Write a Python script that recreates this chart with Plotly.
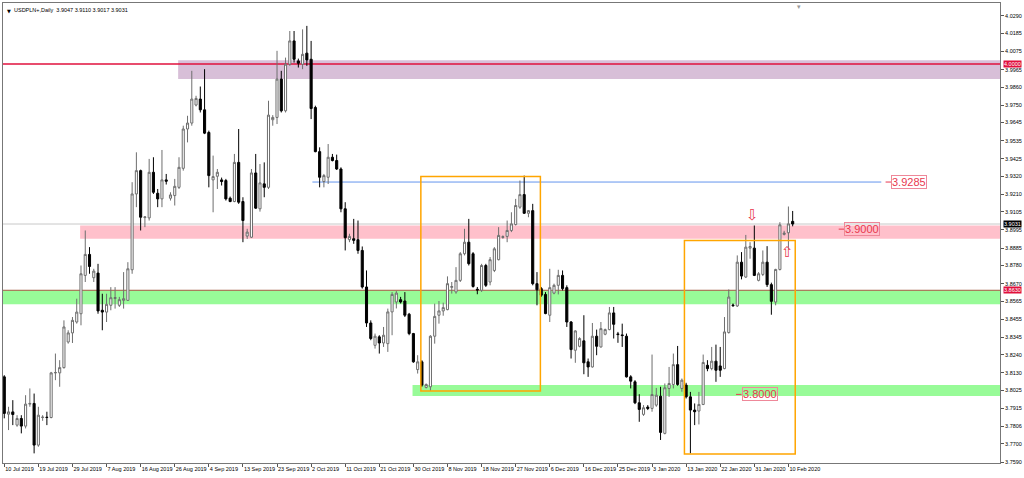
import plotly.graph_objects as go

# ---------------- DATA ----------------
symbol_title = "USDPLN+,Daily  3.9047 3.9110 3.9017 3.9031"

opens = [3.8106, 3.7880, 3.7894, 3.7814, 3.7854, 3.7808, 3.7941, 3.7945, 3.7693, 3.7860,
         3.7862, 3.7860, 3.8130, 3.8130, 3.8162, 3.8317, 3.8372, 3.8438, 3.8488, 3.8720,
         3.8847, 3.8706, 3.8734, 3.8509, 3.8498, 3.8539, 3.8580, 3.8539, 3.8569, 3.8569,
         3.8754, 3.9213, 3.9354, 3.9070, 3.9068, 3.9344, 3.9217, 3.9183, 3.9298, 3.9187,
         3.9203, 3.9253, 3.9368, 3.9606, 3.9642, 3.9751, 3.9787, 3.9722, 3.9585, 3.9298,
         3.9320, 3.9298, 3.9294, 3.9187, 3.9167, 3.9404, 3.9167, 3.8958, 3.8951, 3.9340,
         3.9123, 3.9274, 3.9253, 3.9662, 3.9676, 3.9908, 3.9716, 3.9998, 4.0139, 4.0018,
         3.9998, 4.0065, 4.0028, 3.9736, 3.9469, 3.9288, 3.9314, 3.9435, 3.9415, 3.9364,
         3.9123, 3.8936, 3.8942, 3.8936, 3.8871, 3.8650, 3.8432, 3.8297, 3.8348, 3.8311,
         3.8307, 3.8499, 3.8559, 3.8573, 3.8565, 3.8485, 3.8368, 3.8150, 3.8197, 3.8042,
         3.8046, 3.8352, 3.8479, 3.8505, 3.8513, 3.8648, 3.8620, 3.8690, 3.8851, 3.8921,
         3.8851, 3.8636, 3.8630, 3.8780, 3.8680, 3.8750, 3.8815, 3.8950, 3.8956, 3.8992,
         3.9028, 3.9133, 3.9209, 3.9096, 3.9112, 3.8670, 3.8640, 3.8605, 3.8479, 3.8613,
         3.8660, 3.8720, 3.8646, 3.8438, 3.8267, 3.8291, 3.8324, 3.8197, 3.8166, 3.8352,
         3.8287, 3.8364, 3.8392, 3.8493, 3.8366, 3.8360, 3.8352, 3.8106, 3.8076, 3.7949,
         3.7879, 3.7923, 3.7915, 3.7935, 3.7989, 3.7764, 3.8036, 3.8060, 3.8180, 3.8036,
         3.8056, 3.7985, 3.7905, 3.7899, 3.7939, 3.8176, 3.8156, 3.8201, 3.8172, 3.8156,
         3.8374, 3.8541, 3.8535, 3.8800, 3.8710, 3.8885, 3.8885, 3.8690, 3.8726, 3.8800,
         3.8664, 3.8559, 3.8756, 3.8968, 3.8978, 3.9047]

highs = [3.8116, 3.7925, 3.7965, 3.7874, 3.7874, 3.7995, 3.8036, 3.8005, 3.7925, 3.7874,
         3.7895, 3.8136, 3.8247, 3.8207, 3.8448, 3.8388, 3.8468, 3.8579, 3.8780, 3.8992,
         3.8891, 3.8760, 3.8790, 3.8609, 3.8609, 3.8649, 3.8649, 3.8590, 3.8740, 3.8800,
         3.9284, 3.9465, 3.9360, 3.9076, 3.9425, 3.9435, 3.9243, 3.9479, 3.9334, 3.9223,
         3.9304, 3.9435, 3.9626, 3.9686, 3.9958, 3.9807, 3.9863, 3.9968, 3.9596, 3.9445,
         3.9364, 3.9312, 3.9304, 3.9197, 3.9455, 3.9606, 3.9193, 3.9002, 3.9364, 3.9455,
         3.9394, 3.9404, 3.9777, 3.9690, 4.0079, 3.9958, 4.0038, 4.0199, 4.0199, 4.0032,
         4.0209, 4.0230, 4.0139, 3.9747, 3.9495, 3.9334, 3.9515, 3.9455, 3.9451, 3.9374,
         3.9163, 3.8972, 3.9062, 3.9052, 3.8895, 3.8750, 3.8448, 3.8368, 3.8358, 3.8408,
         3.8519, 3.8619, 3.8625, 3.8590, 3.8619, 3.8493, 3.8372, 3.8237, 3.8207, 3.8066,
         3.8358, 3.8549, 3.8565, 3.8555, 3.8714, 3.8680, 3.8770, 3.8861, 3.9002, 3.9062,
         3.8861, 3.8650, 3.8790, 3.8790, 3.8831, 3.8891, 3.9012, 3.8962, 3.9052, 3.9102,
         3.9183, 3.9294, 3.9324, 3.9116, 3.9153, 3.8740, 3.8650, 3.8619, 3.8760, 3.8670,
         3.8754, 3.8750, 3.8660, 3.8444, 3.8388, 3.8346, 3.8479, 3.8217, 3.8432, 3.8392,
         3.8438, 3.8398, 3.8529, 3.8529, 3.8378, 3.8428, 3.8368, 3.8116, 3.8086, 3.8001,
         3.7935, 3.7935, 3.8241, 3.8039, 3.8046, 3.8066, 3.8166, 3.8247, 3.8293, 3.8096,
         3.8070, 3.8015, 3.7945, 3.8015, 3.8241, 3.8207, 3.8287, 3.8301, 3.8287, 3.8468,
         3.8635, 3.8550, 3.8841, 3.8861, 3.8965, 3.8921, 3.9022, 3.8740, 3.8871, 3.8897,
         3.8676, 3.8760, 3.9042, 3.8990, 3.9137, 3.9110]

lows = [3.7855, 3.7784, 3.7814, 3.7804, 3.7764, 3.7794, 3.7925, 3.7643, 3.7683, 3.7840,
        3.7814, 3.7855, 3.8086, 3.8046, 3.8156, 3.8307, 3.8311, 3.8428, 3.8418, 3.8680,
        3.8730, 3.8680, 3.8488, 3.8388, 3.8438, 3.8509, 3.8519, 3.8529, 3.8519, 3.8565,
        3.8730, 3.9133, 3.8992, 3.9012, 3.9052, 3.9213, 3.9133, 3.9133, 3.9270, 3.9173,
        3.9143, 3.9243, 3.9354, 3.9525, 3.9626, 3.9743, 3.9706, 3.9575, 3.9253, 3.9102,
        3.9243, 3.9264, 3.9173, 3.9163, 3.9163, 3.9153, 3.8921, 3.8941, 3.8946, 3.9123,
        3.9106, 3.9193, 3.9243, 3.9626, 3.9636, 3.9706, 3.9706, 3.9988, 4.0008, 3.9978,
        3.9968, 3.9988, 3.9666, 3.9465, 3.9253, 3.9253, 3.9273, 3.9410, 3.9358, 3.9102,
        3.8871, 3.8921, 3.8911, 3.8851, 3.8640, 3.8408, 3.8328, 3.8277, 3.8247, 3.8287,
        3.8257, 3.8358, 3.8520, 3.8550, 3.8468, 3.8358, 3.8191, 3.8126, 3.8046, 3.8036,
        3.8022, 3.8307, 3.8428, 3.8476, 3.8509, 3.8610, 3.8609, 3.8680, 3.8841, 3.8780,
        3.8646, 3.8606, 3.8620, 3.8650, 3.8660, 3.8740, 3.8811, 3.8942, 3.8921, 3.8982,
        3.9022, 3.9123, 3.9092, 3.9072, 3.8660, 3.8539, 3.8590, 3.8485, 3.8438, 3.8606,
        3.8605, 3.8629, 3.8408, 3.8217, 3.8191, 3.8285, 3.8122, 3.8106, 3.8162, 3.8237,
        3.8283, 3.8358, 3.8388, 3.8338, 3.8312, 3.8287, 3.8102, 3.8036, 3.7941, 3.7834,
        3.7870, 3.7905, 3.7895, 3.7925, 3.7724, 3.7758, 3.7985, 3.8036, 3.8052, 3.8016,
        3.7975, 3.7643, 3.7814, 3.7818, 3.7935, 3.8140, 3.8146, 3.8076, 3.8106, 3.8152,
        3.8368, 3.8530, 3.8529, 3.8696, 3.8704, 3.8821, 3.8716, 3.8684, 3.8716, 3.8650,
        3.8482, 3.8539, 3.8750, 3.8962, 3.8881, 3.9017]

closes = [3.7885, 3.7894, 3.7878, 3.7854, 3.7808, 3.7941, 3.7945, 3.7693, 3.7874, 3.7862,
          3.7860, 3.8130, 3.8132, 3.8162, 3.8408, 3.8372, 3.8448, 3.8498, 3.8730, 3.8847,
          3.8774, 3.8746, 3.8505, 3.8498, 3.8545, 3.8585, 3.8586, 3.8573, 3.8579, 3.8760,
          3.9213, 3.9354, 3.9072, 3.9074, 3.9344, 3.9223, 3.9183, 3.9298, 3.9290, 3.9207,
          3.9259, 3.9374, 3.9606, 3.9642, 3.9787, 3.9791, 3.9722, 3.9581, 3.9324, 3.9318,
          3.9344, 3.9288, 3.9183, 3.9167, 3.9404, 3.9163, 3.9052, 3.8982, 3.9340, 3.9127,
          3.9280, 3.9253, 3.9690, 3.9676, 3.9908, 3.9716, 3.9998, 4.0139, 4.0028, 4.0004,
          4.0058, 4.0024, 3.9730, 3.9469, 3.9314, 3.9324, 3.9435, 3.9415, 3.9364, 3.9123,
          3.8948, 3.8956, 3.8932, 3.8871, 3.8650, 3.8432, 3.8338, 3.8352, 3.8311, 3.8358,
          3.8499, 3.8605, 3.8613, 3.8559, 3.8479, 3.8368, 3.8197, 3.8197, 3.8056, 3.8060,
          3.8352, 3.8472, 3.8505, 3.8525, 3.8670, 3.8652, 3.8690, 3.8851, 3.8921, 3.8791,
          3.8653, 3.8632, 3.8780, 3.8660, 3.8815, 3.8881, 3.8962, 3.8954, 3.8992, 3.9032,
          3.9143, 3.9209, 3.9096, 3.9112, 3.8670, 3.8633, 3.8600, 3.8489, 3.8646, 3.8660,
          3.8720, 3.8640, 3.8438, 3.8271, 3.8384, 3.8338, 3.8191, 3.8166, 3.8352, 3.8291,
          3.8398, 3.8392, 3.8493, 3.8424, 3.8362, 3.8356, 3.8106, 3.8080, 3.7949, 3.7909,
          3.7919, 3.7915, 3.7999, 3.7995, 3.7770, 3.8040, 3.8066, 3.8180, 3.8060, 3.8086,
          3.7985, 3.7905, 3.7895, 3.7939, 3.8193, 3.8156, 3.8201, 3.8146, 3.8146, 3.8378,
          3.8589, 3.8537, 3.8800, 3.8716, 3.8891, 3.8895, 3.8720, 3.8730, 3.8800, 3.8664,
          3.8563, 3.8756, 3.9026, 3.8976, 3.9032, 3.9031]

x_tick_labels = ["10 Jul 2019", "19 Jul 2019", "29 Jul 2019", "7 Aug 2019", "16 Aug 2019",
                 "26 Aug 2019", "4 Sep 2019", "13 Sep 2019", "23 Sep 2019", "2 Oct 2019",
                 "11 Oct 2019", "21 Oct 2019", "30 Oct 2019", "8 Nov 2019", "18 Nov 2019",
                 "27 Nov 2019", "6 Dec 2019", "16 Dec 2019", "25 Dec 2019", "3 Jan 2020",
                 "13 Jan 2020", "22 Jan 2020", "31 Jan 2020", "10 Feb 2020"]
bars_per_label = 8

y_tick_values = [4.0290, 4.0185, 4.0075, 3.9965, 3.9860, 3.9750, 3.9645, 3.9535, 3.9425,
                 3.9320, 3.9210, 3.9105, 3.8995, 3.8885, 3.8780, 3.8670, 3.8565, 3.8455,
                 3.8345, 3.8240, 3.8130, 3.8025, 3.7915, 3.7806, 3.7700, 3.7590]

# horizontal levels
red_level = 4.0000
blue_level = 3.9285
level_labels = [3.9285, 3.9000, 3.8000]
current_price = 3.9031
support_line = 3.8630

# zones (price ranges)
purple_zone = (3.9908, 4.0022)
pink_zone = (3.8942, 3.9022)
green_zone_1 = (3.8545, 3.8629)
green_zone_2 = (3.7990, 3.8056)
box_1 = (3.8021, 3.9318)
box_2 = (3.7639, 3.8931)

# ---------------- FIGURE ----------------
bars = list(range(len(opens)))
X_MIN, X_MAX = -0.30, 233.65
Y_MIN, Y_MAX = 3.75847, 4.03685

fig = go.Figure()
fig.add_trace(go.Candlestick(
    x=bars, open=opens, high=highs, low=lows, close=closes,
    increasing=dict(line=dict(color="#6e6e6e", width=1), fillcolor="white"),
    decreasing=dict(line=dict(color="black", width=1), fillcolor="black"),
    whiskerwidth=0, showlegend=False, hoverinfo="skip",
))

shapes = []
def hline(y, color, width, x0=X_MIN, x1=X_MAX, layer="below"):
    shapes.append(dict(type="line", xref="x", yref="y", x0=x0, x1=x1, y0=y, y1=y,
                       line=dict(color=color, width=width), layer=layer))

def zone(x0, rng, color):
    shapes.append(dict(type="rect", xref="x", yref="y", x0=x0, x1=X_MAX,
                       y0=rng[0], y1=rng[1], fillcolor=color, line=dict(width=0),
                       layer="below"))

hline(current_price, "#c8c8c8", 1)
zone(40.8, purple_zone, "#d8bfd8")
zone(17.8, pink_zone, "#ffc0cb")
zone(X_MIN, green_zone_1, "#98fb98")
zone(95.8, green_zone_2, "#98fb98")
hline(red_level, "#e0103c", 1.5)
hline(support_line, "#a0583c", 1)
hline(blue_level, "#6495ed", 1, x0=72.3, x1=205.8)

for (x0, x1, rng) in [(97.75, 125.8, box_1), (159.6, 185.6, box_2)]:
    shapes.append(dict(type="rect", xref="x", yref="y", x0=x0, x1=x1, y0=rng[0], y1=rng[1],
                       line=dict(color="#ffa500", width=1.5), fillcolor="rgba(0,0,0,0)",
                       layer="above"))

label_left = [208.1, 197.1, 173.0]
label_red = "#e8384f"
annotations = []
for price, xl in zip(level_labels, label_left):
    shapes.append(dict(type="line", xref="x", yref="y", x0=xl - 1.3, x1=xl, y0=price, y1=price,
                       line=dict(color=label_red, width=1), layer="above"))
    annotations.append(dict(x=xl, y=price, xref="x", yref="y", xanchor="left", yanchor="middle",
                            text=f"{price:.4f}", showarrow=False,
                            font=dict(family="Liberation Sans", size=11, color=label_red),
                            bordercolor="#ee8899", borderwidth=1, borderpad=0,
                            bgcolor="rgba(255,255,255,0)"))

# arrows
annotations.append(dict(x=175.6, y=3.9088, xref="x", yref="y", text="⇩", showarrow=False,
                        font=dict(family="DejaVu Sans", size=15, color=label_red)))
annotations.append(dict(x=183.8, y=3.8859, xref="x", yref="y", text="⇧", showarrow=False,
                        font=dict(family="DejaVu Sans", size=15, color=label_red)))

# right-axis price tags
for price, bg in [(red_level, "#e0103c"), (current_price, "#000000"), (support_line, "#e0103c")]:
    annotations.append(dict(x=1, y=price, xref="paper", yref="y", xanchor="left",
                            yanchor="middle", xshift=3, text=f"{price:.4f}", showarrow=False,
                            font=dict(family="Liberation Sans", size=5.5, color="white"),
                            bgcolor=bg, borderpad=0))

# title
annotations.append(dict(x=0, y=1, xref="paper", yref="paper", xanchor="left", yanchor="top",
                        xshift=2, yshift=-3, text="▼", showarrow=False,
                        font=dict(family="DejaVu Sans", size=5, color="black")))
annotations.append(dict(x=0, y=1, xref="paper", yref="paper", xanchor="left", yanchor="top",
                        xshift=9, yshift=-2, text=symbol_title, showarrow=False,
                        font=dict(family="Liberation Sans", size=5.5, color="black")))
# chart shift marker
annotations.append(dict(x=186.6, y=1, xref="x", yref="paper", yanchor="top", yshift=2,
                        text="▾", showarrow=False,
                        font=dict(family="DejaVu Sans", size=7, color="#999999")))

fig.update_layout(
    width=1024, height=478,
    margin=dict(l=2, r=23, t=2, b=15),
    paper_bgcolor="white", plot_bgcolor="white",
    shapes=shapes, annotations=annotations,
    showlegend=False, hovermode=False,
    font=dict(family="Liberation Sans", size=5.5, color="black"),
    xaxis=dict(
        range=[X_MIN, X_MAX], rangeslider=dict(visible=False),
        tickmode="array",
        tickvals=[i * bars_per_label for i in range(len(x_tick_labels))],
        ticktext=x_tick_labels, ticklabelposition="outside right", tickangle=0,
        ticks="outside", ticklen=3, tickcolor="#555555",
        showgrid=False, zeroline=False,
        showline=True, linecolor="#777777", linewidth=1, mirror=True,
        tickfont=dict(family="Liberation Sans", size=5.5, color="black"),
    ),
    yaxis=dict(
        range=[Y_MIN, Y_MAX], side="right",
        tickmode="array", tickvals=y_tick_values,
        ticktext=[f"{v:.4f}" for v in y_tick_values],
        ticks="outside", ticklen=3, tickcolor="#555555",
        showgrid=False, zeroline=False,
        showline=True, linecolor="#777777", linewidth=1, mirror=True,
        tickfont=dict(family="Liberation Sans", size=5.5, color="black"),
    ),
)

fig.write_html("out.html", config={"displayModeBar": False},
               post_script="document.body.style.margin='0';document.body.style.overflow='hidden';")
